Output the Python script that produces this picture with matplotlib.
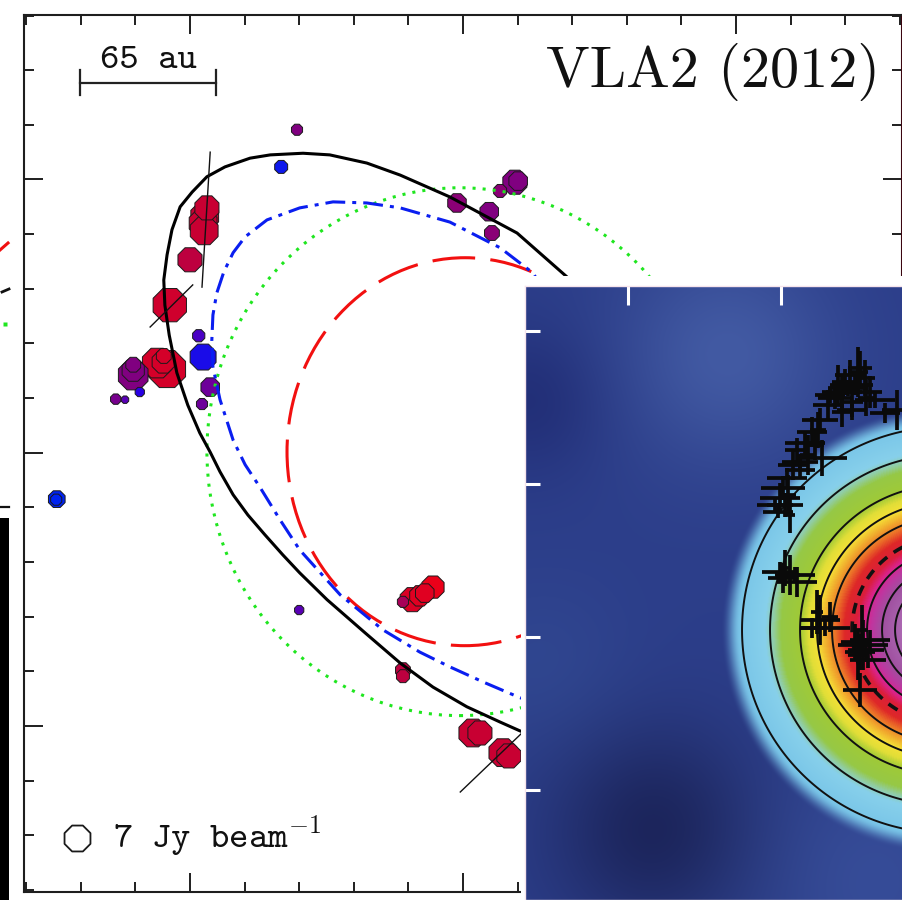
import numpy as np
import matplotlib
matplotlib.use("Agg")
import matplotlib.pyplot as plt
from matplotlib.colors import LinearSegmentedColormap, Normalize
from matplotlib.patches import Ellipse, Rectangle
from matplotlib.lines import Line2D
from matplotlib.ticker import MultipleLocator

plt.rcParams["mathtext.fontset"] = "cm"

# ---------------- water maser spots: offsets (mas), peak flux (Jy/beam), V_LSR (km/s)
spot_x = [19.6, 16.7, 3.1, 2.7, 2.4, 2.6, 0.0, -3.7, -6.0, -4.2, -4.9, -4.8, -10.4, -10.4,
          -10.4, -9.2, -13.6, -11.9, 1.6, 2.4, 3.7, 2.2, -24.4, -24.5, 20.0, 39.0, 40.7,
          42.1, 43.0, 44.5, 39.0, 39.0, 51.8, 53.1, 57.3, 58.4, 59.5, 60.1, 56.8, 54.8,
          55.3, 48.9]
spot_y = [109.1, 102.3, 94.8, 93.3, 92.0, 90.6, 85.3, 77.0, 66.4, 65.3, 66.6, 67.7, 64.2,
          65.1, 66.1, 61.1, 59.8, 59.7, 71.4, 67.5, 62.0, 58.9, 41.5, 41.4, 21.2, 22.7,
          23.1, 23.8, 24.3, 25.4, 10.2, 9.1, -1.3, -1.3, -4.9, -5.5, 99.5, 99.7, 97.9,
          94.1, 90.2, 95.7]
spot_flux = [3.0, 3.5, 6.5, 7.5, 7.5, 7.5, 6.5, 9.0, 8.0, 10.0, 6.0, 4.0, 8.0, 6.0, 4.0,
             2.5, 2.8, 2.0, 3.3, 7.0, 5.0, 3.0, 4.5, 3.0, 2.5, 3.0, 6.5, 5.5, 5.0, 6.0,
             4.0, 3.5, 7.5, 6.5, 7.5, 6.5, 6.5, 5.0, 3.5, 5.0, 4.0, 5.0]
spot_vel = [10, 1, 17, 17, 17, 17, 16, 17.5, 18, 18, 18, 18, 10, 10, 10, 3, 9, 6, 5, 2, 8,
            8, 0, 0, 6, 14, 18.5, 19, 19, 20, 16, 16, 17, 17, 17, 17, 10, 10, 11, 10, 11, 11]

# ---------------- fitted shell models
fit_x = [73.3, 69.0, 59.9, 47.6, 38.5, 32.4, 25.6, 20.7, 14.7, 11.0, 6.4, 3.1, 0.4, -1.8,
         -3.3, -4.2, -4.8, -4.6, -3.8, -2.4, -0.4, 1.8, 3.7, 5.5, 7.9, 10.6, 13.7, 17.0,
         20.1, 25.1, 32.1, 38.5, 44.5, 50.7, 56.8, 60.4, 64.1]
fit_y = [78.0, 82.2, 90.2, 96.8, 100.8, 103.0, 104.5, 104.8, 104.5, 103.9, 102.3, 100.5,
         97.7, 95.0, 90.8, 86.2, 81.6, 77.0, 71.5, 64.6, 58.7, 53.6, 50.1, 46.5, 42.3,
         38.6, 35.0, 31.3, 28.0, 23.1, 17.0, 11.5, 7.1, 3.5, 0.7, -0.9, -2.2]
fit2_x = [65.0, 62.8, 56.8, 47.6, 38.5, 32.4, 26.2, 20.1, 14.1, 10.1, 7.9, 6.2, 4.9, 4.2,
          4.0, 4.2, 5.5, 7.9, 10.1, 12.8, 16.5, 20.1, 27.5, 35.3, 42.1, 47.6, 54.0, 60.1,
          64.1]
fit2_y = [79.4, 82.9, 87.5, 92.2, 94.8, 95.7, 95.9, 94.8, 92.6, 89.5, 86.6, 83.1, 79.2,
          75.2, 70.6, 65.7, 59.7, 52.3, 47.8, 43.7, 37.7, 32.2, 24.0, 17.6, 13.5, 10.8,
          7.9, 5.3, 3.8]
# ellipses: centre x, centre y, full width, full height
green_ell = (49.45, 50.18, 92.7, 96.6)
red_ell = (50.37, 50.18, 65.2, 71.0)
# outflow direction segments (x0, y0, x1, y1)
segments = [(3.7, 105.0, 2.2, 80.3), (-7.3, 73.0, 0.5, 80.7), (49.5, -12.1, 60.8, -1.3)]

# ---------------- continuum image (inset) parameters, offsets in arcsec
blob_centre = (2.072, 0.046)
blob_scale = 1.634
contour_levels = [0.188, 0.30, 0.42, 0.488, 0.548, 0.688, 0.748, 0.80]
dashed_level = [0.628]
cross_u = [1.516, 1.451, 1.484, 1.399, 1.582, 1.758, 1.680, 1.307, 1.255, 1.203, 1.157,
           1.268, 1.105, 1.078, 1.039, 1.013, 0.993, 1.026, 1.059, 0.961, 0.993, 1.059,
           1.105, 1.013, 1.255, 1.203, 1.320, 1.536, 1.516, 1.582, 1.503, 1.516, 1.418,
           1.549, 1.353, 1.464, 1.222, 1.124, 1.556, 1.484,
           1.503, 1.438, 1.373, 1.320, 1.614, 1.556, 1.464, 1.399, 1.242, 1.176, 1.124,
           1.046, 0.980, 1.092, 1.026, 1.288, 1.235, 1.569, 1.529]
cross_v = [1.758, 1.712, 1.647, 1.601, 1.601, 1.484, 1.464, 1.516, 1.418, 1.340, 1.268,
           1.170, 1.222, 1.124, 1.039, 0.974, 0.908, 0.863, 0.797, 0.863, 0.425, 0.405,
           0.359, 0.386, 0.111, 0.059, 0.131, -0.052, -0.098, -0.020, -0.118, -0.346,
           1.667, 1.693, 1.562, 1.536, 1.255, 1.092, -0.085, -0.033,
           1.732, 1.627, 1.647, 1.582, 1.549, 1.562, 1.484, 1.471, 1.353, 1.190, 1.144,
           0.928, 0.817, 0.405, 0.451, 0.059, 0.163, -0.150, 0.046]
cross_du = [0.078, 0.098, 0.118, 0.131, 0.078, 0.098, 0.098, 0.098, 0.118, 0.098, 0.131,
            0.163, 0.078, 0.098, 0.131, 0.144, 0.131, 0.118, 0.033, 0.118, 0.118, 0.065,
            0.131, 0.098, 0.131, 0.078, 0.052, 0.163, 0.098, 0.131, 0.065, 0.111, 0.085,
            0.065, 0.110, 0.070, 0.060, 0.100, 0.120, 0.090,
            0.065, 0.131, 0.052, 0.098, 0.131, 0.052, 0.098, 0.065, 0.052, 0.052, 0.118,
            0.052, 0.098, 0.131, 0.039, 0.163, 0.039, 0.118, 0.039]
cross_dv = [0.110, 0.098, 0.065, 0.118, 0.105, 0.131, 0.065, 0.098, 0.078, 0.098, 0.078,
            0.118, 0.078, 0.098, 0.065, 0.078, 0.098, 0.078, 0.118, 0.052, 0.065, 0.131,
            0.098, 0.098, 0.163, 0.065, 0.098, 0.163, 0.118, 0.065, 0.163, 0.111, 0.085,
            0.120, 0.070, 0.100, 0.100, 0.060, 0.080, 0.120,
            0.163, 0.052, 0.131, 0.052, 0.052, 0.118, 0.065, 0.098, 0.118, 0.131, 0.052,
            0.131, 0.039, 0.052, 0.118, 0.052, 0.144, 0.052, 0.163]

W, H = 903, 900
fig = plt.figure(figsize=(W / 100, H / 100), dpi=100)
fig.patch.set_facecolor("white")

# ================= main maser map
ax = fig.add_axes([24 / W, 8 / H, 878 / W, 877 / H])
ax.set_xlim(-30.4, 130.4)
ax.set_ylim(-30.4, 130.1)
for a in (ax.xaxis, ax.yaxis):
    a.set_major_locator(MultipleLocator(50))
    a.set_minor_locator(MultipleLocator(10))
ax.tick_params(which="both", direction="in", top=True, right=True, bottom=True, left=True,
               labelbottom=False, labelleft=False, width=1.4, color="#1e1e1e")
ax.tick_params(which="major", length=13.5)
ax.tick_params(which="minor", length=7.2)
for s in ax.spines.values():
    s.set_linewidth(1.5)
    s.set_color("#1e1e1e")
ax.spines["right"].set_color("#3a0610")

maser_cmap = LinearSegmentedColormap.from_list("maser", [
    (0.0, (0 / 255, 35 / 255, 240 / 255)),
    (0.15, (40 / 255, 0, 228 / 255)),
    (0.3, (90 / 255, 0, 180 / 255)),
    (0.5, (128 / 255, 0, 128 / 255)),
    (0.7, (168 / 255, 0, 88 / 255)),
    (0.85, (200 / 255, 0, 50 / 255)),
    (1.0, (235 / 255, 0, 25 / 255))])
vnorm = Normalize(0, 20)

sx, sy = np.array(spot_x), np.array(spot_y)
sf, sv = np.array(spot_flux), np.array(spot_vel)
order = np.argsort(-sf, kind="stable")
ref_flux, ref_diam = 7.0, 20.2  # a 7 Jy/beam spot is drawn 20.2 pt across
ax.scatter(sx[order], sy[order], s=(ref_diam * sf[order] / ref_flux) ** 2, c=sv[order],
           cmap=maser_cmap, norm=vnorm, marker="8", edgecolors="#1a1a1a",
           linewidths=0.7, zorder=3)

ax.add_patch(Ellipse(green_ell[:2], green_ell[2], green_ell[3], fill=False,
                     ec="#1fe61f", lw=2.2, ls=(0, (1, 2.3)), zorder=4))
ax.add_patch(Ellipse(red_ell[:2], red_ell[2], red_ell[3], fill=False,
                     ec="#f21010", lw=2.2, ls=(2, (14, 5)), zorder=4))
ax.plot(fit2_x, fit2_y, color="#0a1ef0", lw=2.2, ls=(0, (6.5, 2.3, 1.3, 2.3)), zorder=4)
ax.plot(fit_x, fit_y, color="black", lw=2.2, zorder=4, solid_joinstyle="round")
for x0, y0, x1, y1 in segments:
    ax.plot([x0, x1], [y0, y1], color="#111111", lw=1.0, zorder=5)

# scale bar
bar_x0, bar_x1, bar_y = -20.1, 4.8, 117.7
ax.plot([bar_x0, bar_x1], [bar_y, bar_y], color="#222222", lw=1.6)
for bx in (bar_x0, bar_x1):
    ax.plot([bx, bx], [bar_y - 2.3, bar_y + 2.3], color="#222222", lw=1.6)
ax.text(-7.7, 120.4, "65 au", family="cmtt10", ha="center", va="baseline",
        fontsize=26.5, color="#111111")
ax.text(126.4, 116.9, "VLA2 (2012)", family="cmr10", ha="right", va="baseline",
        fontsize=42, color="#111111")
ax.scatter([-20.7], [-20.5], s=ref_diam ** 2, marker="8", facecolors="white",
           edgecolors="#1a1a1a", linewidths=1.3, zorder=3)
ax.text(-14.1, -22.3, r"7 Jy beam$^{\mathtt{-1}}$", family="cmtt10", ha="left",
        va="baseline", fontsize=26.5, color="#111111")

# white mount behind the inset
fig.add_artist(Rectangle((521 / W, 0), 382 / W, 624 / H, transform=fig.transFigure,
                         facecolor="white", edgecolor="none", zorder=4))

# slivers of the neighbouring panel at the left edge
fig.add_artist(Line2D([0, 8 / W], [1 - 250 / H, 1 - 243 / H], transform=fig.transFigure,
                      color="#f01010", lw=2.2, zorder=4))
fig.add_artist(Line2D([2 / W, 9 / W], [1 - 292 / H, 1 - 289 / H], transform=fig.transFigure,
                      color="#111111", lw=2.0, zorder=4))
fig.add_artist(Line2D([5 / W], [1 - 324 / H], transform=fig.transFigure, marker="s",
                      ms=2.5, color="#1fe61f", mec="none", zorder=4))
fig.add_artist(Line2D([0, 9 / W], [1 - 507 / H, 1 - 507 / H], transform=fig.transFigure,
                      color="#111111", lw=1.6, zorder=4))
fig.add_artist(Rectangle((0, 0), 9 / W, (900 - 518) / H, transform=fig.transFigure,
                         facecolor="black", edgecolor="none", zorder=4))

# ================= continuum inset
axin = fig.add_axes([525 / W, 0, 378 / W, 614 / H], zorder=5)
umin, umax, vmin, vmax = -0.673, 1.797, -1.719, 2.294
axin.set_xlim(umin, umax)
axin.set_ylim(vmin, vmax)

u = np.linspace(umin, umax, 380)
v = np.linspace(vmin, vmax, 620)
U, V = np.meshgrid(u, v)

# diffuse background emission
bg = np.zeros(U.shape + (3,))
bg[...] = np.array([44, 62, 138]) / 255
bumps = [  # centre u, centre v, sigma, rgb amplitude
    (0.65, 1.85, 0.5, (22, 28, 25)),
    (-0.62, 1.55, 0.35, (-10, -15, -18)),
    (0.176, -1.261, 0.48, (-16, -25, -46)),
    (1.58, -1.59, 0.55, (10, 14, 14)),
    (-0.55, -0.2, 0.4, (4, 8, 6)),
]
for cu, cv, sg, amp in bumps:
    g = np.exp(-((U - cu) ** 2 + (V - cv) ** 2) / (2 * sg ** 2))
    bg += g[..., None] * np.array(amp) / 255

R = np.hypot(U - blob_centre[0], V - blob_centre[1])
I = np.clip(1 - R / blob_scale, 0, 1)
cont_stops = [(0.0, (95, 145, 205)), (0.09, (110, 175, 222)), (0.18, (122, 198, 232)),
              (0.28, (135, 208, 235)), (0.315, (145, 205, 160)), (0.345, (150, 200, 70)),
              (0.42, (160, 202, 55)), (0.455, (225, 222, 55)), (0.49, (245, 225, 55)),
              (0.53, (240, 165, 45)), (0.565, (235, 110, 40)), (0.60, (222, 40, 40)),
              (0.648, (218, 30, 60)), (0.68, (218, 35, 140)), (0.712, (190, 55, 160)),
              (0.752, (160, 80, 160)), (0.82, (170, 100, 175)), (0.92, (195, 150, 205)),
              (1.0, (210, 175, 215))]
blob_cmap = LinearSegmentedColormap.from_list(
    "cont", [(p, tuple(c / 255 for c in col)) for p, col in cont_stops])
blob_rgb = blob_cmap(I)[..., :3]
t = np.clip((I - 0.105) / 0.075, 0, 1)
alpha = t * t * (3 - 2 * t)
rgb = np.clip(alpha[..., None] * blob_rgb + (1 - alpha[..., None]) * bg, 0, 1)
axin.imshow(rgb, extent=[umin, umax, vmin, vmax], origin="lower", aspect="auto",
            interpolation="bilinear")
axin.contour(U, V, I, levels=contour_levels, colors="#111111", linewidths=1.4)
axin.contour(U, V, I, levels=dashed_level, colors="#111111", linewidths=2.6,
             linestyles=[(0, (3, 2.2))])
axin.errorbar(cross_u, cross_v, xerr=cross_du, yerr=cross_dv, fmt="none", ecolor="#0a0a0a",
              elinewidth=2.7, capsize=0, zorder=4)

axin.set_xticks([0, 1])
axin.set_yticks([-1, 0, 1, 2])
axin.tick_params(direction="in", color="white", width=2.2, top=True, bottom=False,
                 left=True, right=False, labelbottom=False, labelleft=False)
axin.xaxis.set_tick_params(length=13.7)
axin.yaxis.set_tick_params(length=10.8)
for s in axin.spines.values():
    s.set_color("#f6e4ec")
    s.set_linewidth(1.0)

fig.savefig("out.png", dpi=100)
